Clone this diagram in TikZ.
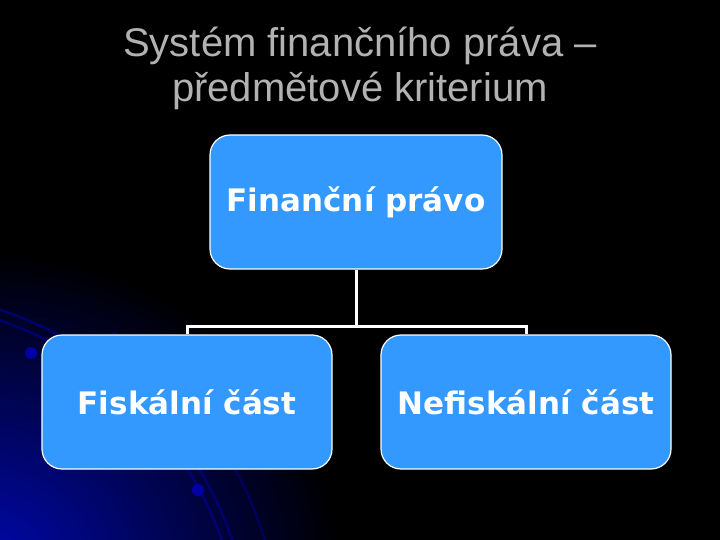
\documentclass[tikz,border=0pt]{standalone}
\usepackage{fontspec}
\setmainfont{Liberation Sans}
\newfontfamily\boxfont{DejaVu Sans}
\usetikzlibrary{positioning}
\definecolor{boxblue}{HTML}{3399FF}
\definecolor{titlegray}{HTML}{B2B2B2}
\definecolor{glowblue}{HTML}{0008B0}

\begin{document}
\begin{tikzpicture}[x=1pt, y=-1pt,
	part/.style={draw=white, line width=1.2pt, fill=boxblue, rounded corners=20pt,
		minimum height=134pt, text=white, font=\boxfont\bfseries\fontsize{31}{36}\selectfont},
	link/.style={draw=white, line width=3pt},
	orbit/.style={draw=blue!60!black, line width=2.5pt, opacity=0.6}]
	% background
	\fill[black] (0,0) rectangle (720,540);
	\useasboundingbox (0,0) rectangle (720,540);
	\begin{scope}
		\clip (0,0) rectangle (720,540);
		\shade[inner color=glowblue, outer color=black] (-20,570) ellipse (360 and 320);
		\draw[orbit] (-116,659) ++(-74:358) arc[start angle=-74, end angle=-8, radius=358];
		\draw[orbit] (-116,659) ++(-73:368) arc[start angle=-73, end angle=-8, radius=368];
		\draw[orbit, opacity=0.45] (-116,659) ++(-55:399) arc[start angle=-55, end angle=-8, radius=399];
		\fill[blue!65!black] (31,353) circle (6);
		\fill[blue!65!black] (198,490) circle (6);
	\end{scope}
	% title
	\node[text=titlegray, align=center, font=\fontsize{40}{45}\selectfont] (title) at (360,68)
		{Systém finančního práva --\\předmětové kriterium};
	% boxes
	\node[part, minimum width=292pt] (pravo) at (356,202) {Finanční právo};
	\node[part, minimum width=290pt] (fiskal) at (187,402) {Fiskální část};
	\node[part, minimum width=290pt] (nefiskal) at (526,402) {Nefiskální část};
	\coordinate (bus) at (356,326);
	\draw[link] (pravo.south) -- (bus);
	\draw[link] (fiskal.north) |- (bus) -| (nefiskal.north);
\end{tikzpicture}
\end{document}
